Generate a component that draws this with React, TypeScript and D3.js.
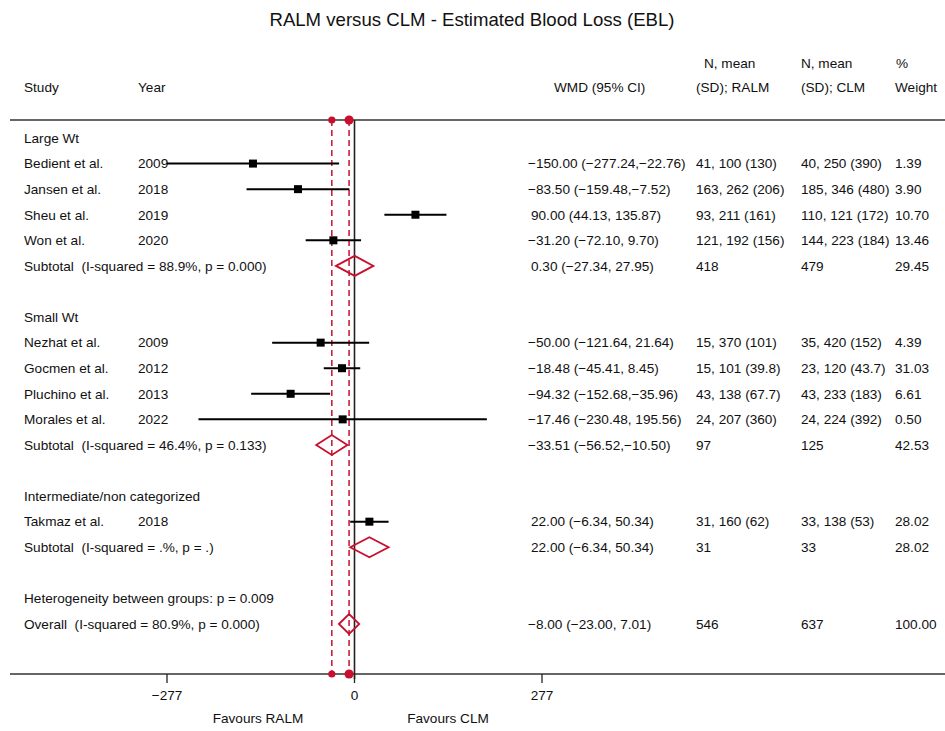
import React from "react";
import * as d3 from "d3";

// studies (one entry per row with a marker)
const groups = ["Large Wt", "Small Wt", "Intermediate/non categorized"];
const studyGroup = [0, 0, 0, 0, 1, 1, 1, 1, 2];
const studies = ["Bedient et al.", "Jansen et al.", "Sheu et al.", "Won et al.", "Nezhat et al.", "Gocmen et al.", "Pluchino et al.", "Morales et al.", "Takmaz et al."];
const years = ["2009", "2018", "2019", "2020", "2009", "2012", "2013", "2022", "2018"];
const wmd = [-150.0, -83.5, 90.0, -31.2, -50.0, -18.48, -94.32, -17.46, 22.0];
const lower = [-277.24, -159.48, 44.13, -72.1, -121.64, -45.41, -152.68, -230.48, -6.34];
const upper = [-22.76, -7.52, 135.87, 9.7, 21.64, 8.45, -35.96, 195.56, 50.34];
const ralm = ["41, 100 (130)", "163, 262 (206)", "93, 211 (161)", "121, 192 (156)", "15, 370 (101)", "15, 101 (39.8)", "43, 138 (67.7)", "24, 207 (360)", "31, 160 (62)"];
const clm = ["40, 250 (390)", "185, 346 (480)", "110, 121 (172)", "144, 223 (184)", "35, 420 (152)", "23, 120 (43.7)", "43, 233 (183)", "24, 224 (392)", "33, 138 (53)"];
const weights = ["1.39", "3.90", "10.70", "13.46", "4.39", "31.03", "6.61", "0.50", "28.02"];

// subtotals per group
const subLabels = ["Subtotal  (I-squared = 88.9%, p = 0.000)", "Subtotal  (I-squared = 46.4%, p = 0.133)", "Subtotal  (I-squared = .%, p = .)"];
const subEst = [0.3, -33.51, 22.0];
const subLo = [-27.34, -56.52, -6.34];
const subHi = [27.95, -10.5, 50.34];
const subRalm = ["418", "97", "31"];
const subClm = ["479", "125", "33"];
const subWeight = ["29.45", "42.53", "28.02"];

// overall
const hetLabel = "Heterogeneity between groups: p = 0.009";
const overallLabel = "Overall  (I-squared = 80.9%, p = 0.000)";
const overall = { est: -8.0, lo: -23.0, hi: 7.01, ralm: "546", clm: "637", weight: "100.00" };

const refLines = [-33.51, -8.0];
const ticks = [-277, 0, 277];

const RED = "#c8102e";
const fmt = (v: number) => v.toFixed(2).replace("-", "\u2212");
const ciText = (e: number, l: number, h: number) => {
  const hs = h < 0 ? fmt(h) : " " + fmt(h);
  return `${fmt(e)} (${fmt(l)},${hs})`;
};

type Row = {
  kind: "header" | "study" | "sub" | "blank" | "het" | "overall";
  label?: string;
  year?: string;
  est?: number;
  lo?: number;
  hi?: number;
  ralm?: string;
  clm?: string;
  weight?: string;
};

export default function App() {
  const width = 945;
  const height = 731;
  const x = d3.scaleLinear().domain([-277, 277]).range([167, 542]);

  const rows: Row[] = [];
  groups.forEach((g, gi) => {
    rows.push({ kind: "header", label: g });
    studies.forEach((s, i) => {
      if (studyGroup[i] !== gi) return;
      rows.push({ kind: "study", label: s, year: years[i], est: wmd[i], lo: lower[i], hi: upper[i], ralm: ralm[i], clm: clm[i], weight: weights[i] });
    });
    rows.push({ kind: "sub", label: subLabels[gi], est: subEst[gi], lo: subLo[gi], hi: subHi[gi], ralm: subRalm[gi], clm: subClm[gi], weight: subWeight[gi] });
    rows.push({ kind: "blank" });
  });
  rows.push({ kind: "het", label: hetLabel });
  rows.push({ kind: "overall", label: overallLabel, ...overall });

  const y = d3.scaleLinear().domain([0, rows.length - 1]).range([138, 624]);
  const top = 120;
  const axisY = 674;
  const font = "Liberation Sans, Arial, sans-serif";
  const fs = 13.6;
  const pre = { whiteSpace: "pre" as const };

  return (
    <svg width={width} height={height} style={{ position: "absolute", left: 0, top: 0, background: "#fff" }} fontFamily={font}>
      <rect width={width} height={height} fill="#fff" />
      <text x={472} y={26} textAnchor="middle" fontSize={18.6} fill="#111">
        RALM versus CLM - Estimated Blood Loss (EBL)
      </text>

      {/* column headers */}
      <g fontSize={fs} fill="#111">
        <text x={24} y={92}>Study</text>
        <text x={138} y={92}>Year</text>
        <text x={554} y={92}>WMD (95% CI)</text>
        <text x={704} y={68}>N, mean</text>
        <text x={696} y={92}>(SD); RALM</text>
        <text x={801} y={68}>N, mean</text>
        <text x={801} y={92}>(SD); CLM</text>
        <text x={896} y={68}>%</text>
        <text x={895} y={92}>Weight</text>
      </g>

      {/* frame lines */}
      <line x1={10} x2={width} y1={top} y2={top} stroke="#333" strokeWidth={1.5} />
      <line x1={10} x2={width} y1={axisY} y2={axisY} stroke="#333" strokeWidth={1.5} />
      <line x1={x(0)} x2={x(0)} y1={top} y2={axisY + 5} stroke="#222" strokeWidth={1.6} />

      {/* axis ticks */}
      {ticks.map((t) => (
        <g key={t}>
          <line x1={x(t)} x2={x(t)} y1={axisY} y2={axisY + 9} stroke="#222" strokeWidth={1.3} />
          <text x={x(t)} y={axisY + 26} textAnchor="middle" fontSize={fs} fill="#111">
            {t < 0 ? "\u2212" + Math.abs(t) : t}
          </text>
        </g>
      ))}
      <text x={258} y={723} textAnchor="middle" fontSize={fs} fill="#111">Favours RALM</text>
      <text x={448} y={723} textAnchor="middle" fontSize={fs} fill="#111">Favours CLM</text>

      {/* rows */}
      {rows.map((r, i) => {
        const cy = y(i);
        const ty = cy + 4.8;
        const parts: React.ReactNode[] = [];
        if (r.label) {
          parts.push(
            <text key="l" x={24} y={ty} fontSize={fs} fill="#111" style={pre}>{r.label}</text>
          );
        }
        if (r.year) {
          parts.push(<text key="y" x={138} y={ty} fontSize={fs} fill="#111">{r.year}</text>);
        }
        if (r.est !== undefined && r.lo !== undefined && r.hi !== undefined) {
          const s = ciText(r.est, r.lo, r.hi);
          parts.push(
            <text key="c" x={r.est < 0 ? 528 : 531} y={ty} fontSize={fs} fill="#111" style={pre}>{s}</text>
          );
          parts.push(<text key="r" x={696} y={ty} fontSize={fs} fill="#111">{r.ralm}</text>);
          parts.push(<text key="m" x={801} y={ty} fontSize={fs} fill="#111">{r.clm}</text>);
          parts.push(<text key="w" x={895} y={ty} fontSize={fs} fill="#111">{r.weight}</text>);
        }
        return <g key={i}>{parts}</g>;
      })}

      {/* reference dashed lines */}
      {refLines.map((v, i) => (
        <g key={v}>
          <line x1={x(v)} x2={x(v)} y1={top} y2={axisY} stroke={RED} strokeWidth={1.5} strokeDasharray="6,4" />
          <circle cx={x(v)} cy={top} r={i === 0 ? 3.6 : 4.6} fill={RED} />
          <circle cx={x(v)} cy={axisY} r={i === 0 ? 3.6 : 4.6} fill={RED} />
        </g>
      ))}

      {/* markers */}
      {rows.map((r, i) => {
        if (r.est === undefined || r.lo === undefined || r.hi === undefined) return null;
        const cy = y(i);
        if (r.kind === "study") {
          return (
            <g key={"m" + i}>
              <line x1={x(r.lo)} x2={x(r.hi)} y1={cy} y2={cy} stroke="#000" strokeWidth={2} />
              <rect x={x(r.est) - 4} y={cy - 4} width={8} height={8} fill="#000" />
            </g>
          );
        }
        const pts = [
          [x(r.lo), cy],
          [x(r.est), cy - 10],
          [x(r.hi), cy],
          [x(r.est), cy + 10],
        ];
        return (
          <polygon key={"m" + i} points={pts.map((p) => p.join(",")).join(" ")} fill="none" stroke={RED} strokeWidth={1.8} />
        );
      })}
    </svg>
  );
}
